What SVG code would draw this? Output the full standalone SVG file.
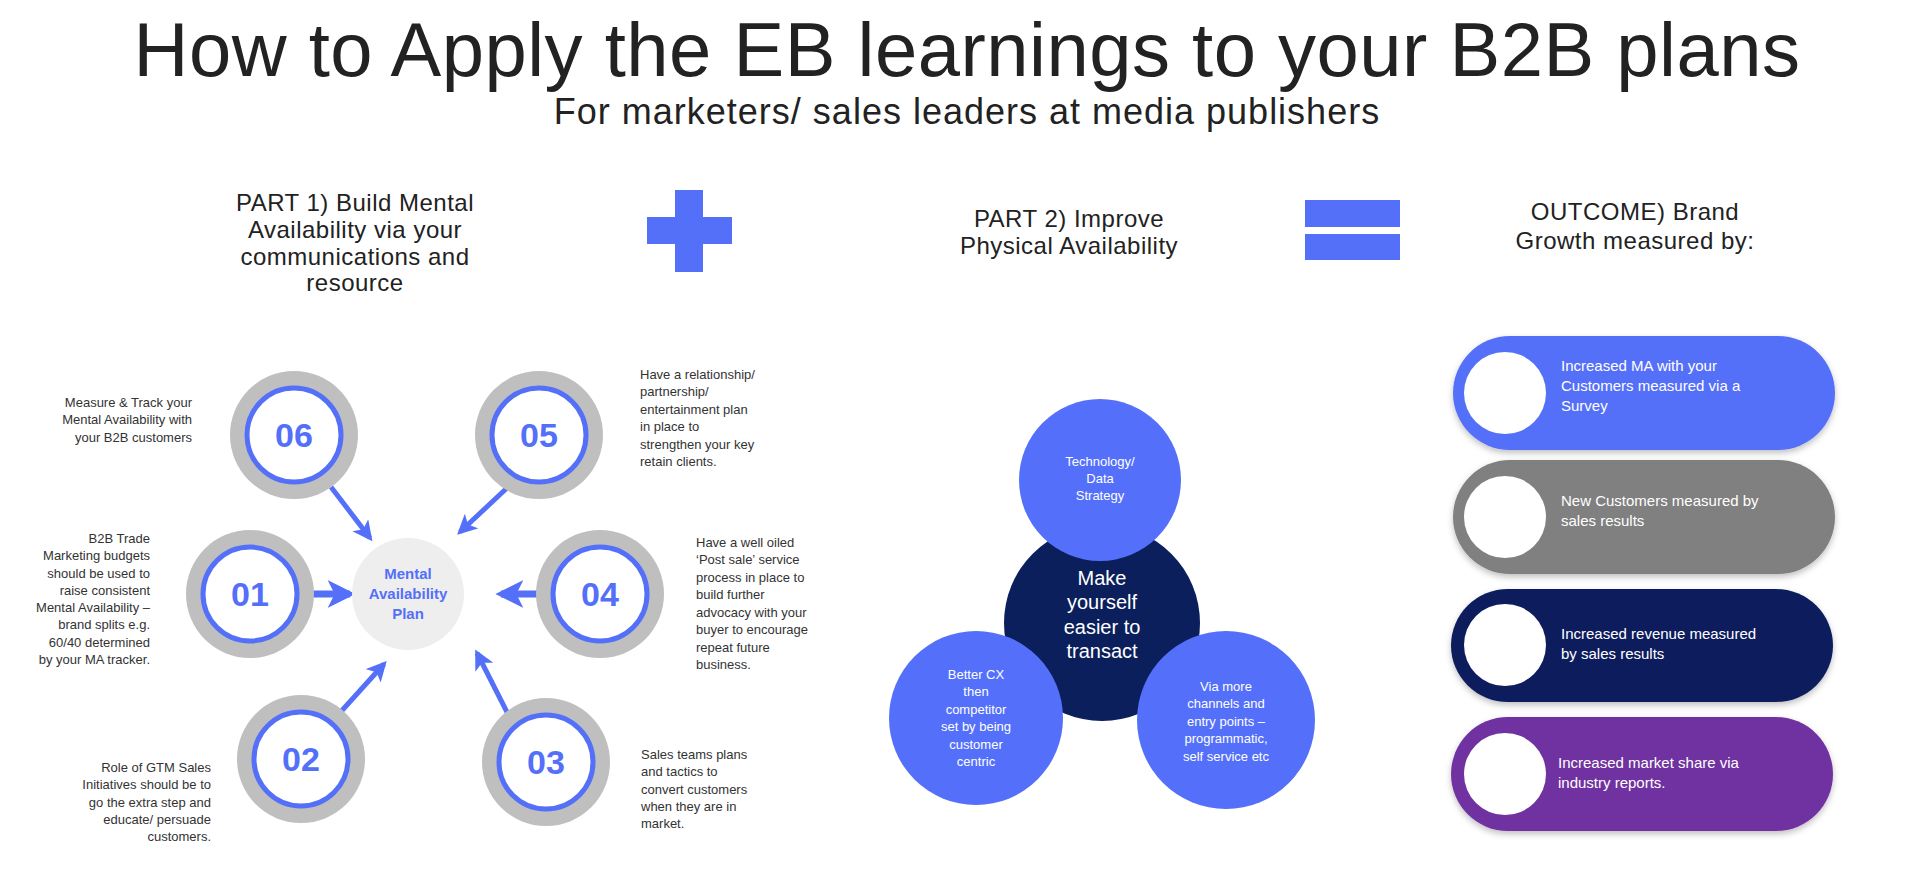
<svg xmlns="http://www.w3.org/2000/svg" width="1920" height="877" viewBox="0 0 1920 877">
<defs>
<style>
.t{font-family:"Liberation Sans",Arial,sans-serif;fill:#222}
.h{font-family:"Liberation Sans",Arial,sans-serif;fill:#222;font-size:24px;text-anchor:middle;letter-spacing:0.5px}
.s{font-size:13px;fill:#333}
.r{text-anchor:end}
.num{font-family:"Liberation Sans",Arial,sans-serif;font-weight:bold;font-size:34px;fill:#5470f8;text-anchor:middle}
.og{fill:#bfbfbf}
.ib{fill:#fff;stroke:#5470f8;stroke-width:5}
.w{font-family:"Liberation Sans",Arial,sans-serif;fill:#fff;text-anchor:middle}
.p{font-family:"Liberation Sans",Arial,sans-serif;fill:#fff;font-size:15px}
.bl{fill:#5470fb}
</style>
<marker id="ah" markerWidth="4" markerHeight="4" refX="3.2" refY="2" orient="auto" markerUnits="strokeWidth"><path d="M0,0 L4,2 L0,4 L1,2 Z" fill="#5470f8"/></marker>
<filter id="sh" x="-10%" y="-10%" width="120%" height="130%"><feDropShadow dx="0" dy="3" stdDeviation="3" flood-opacity="0.25"/></filter>
</defs>
<rect width="1920" height="877" fill="#fff"/>
<g id="titles">
<text class="t" x="967" y="76" font-size="76" text-anchor="middle" fill="#2a2a2a" letter-spacing="0.5">How to Apply the EB learnings to your B2B plans</text>
<text class="t" x="967" y="124" font-size="36" text-anchor="middle" letter-spacing="1">For marketers/ sales leaders at media publishers</text>
<text class="h" x="355" y="211">PART 1) Build Mental</text>
<text class="h" x="355" y="238">Availability via your</text>
<text class="h" x="355" y="265">communications and</text>
<text class="h" x="355" y="291">resource</text>
<text class="h" x="1069" y="227">PART 2) Improve</text>
<text class="h" x="1069" y="254">Physical Availability</text>
<text class="h" x="1635" y="220">OUTCOME) Brand</text>
<text class="h" x="1635" y="249">Growth measured by:</text>
</g>
<g id="plus"><rect x="647" y="217" width="85" height="27" fill="#5470f8"/><rect x="675" y="190" width="28" height="82" fill="#5470f8"/></g>
<g id="equals"><rect x="1305" y="200" width="95" height="27" fill="#5470f8"/><rect x="1305" y="234" width="95" height="26" fill="#5470f8"/></g>
<g id="connectors" stroke="#5470f8" stroke-width="5" fill="none" marker-end="url(#ah)">
<line x1="331" y1="487" x2="370" y2="538"/>
<line x1="508" y1="487" x2="460" y2="532"/>
<line x1="312" y1="594" x2="350" y2="594" stroke-width="7"/>
<line x1="539" y1="594" x2="501" y2="594" stroke-width="7"/>
<line x1="337" y1="716" x2="384" y2="664"/>
<line x1="508" y1="714" x2="477" y2="653"/>
</g>
<g id="center"><circle cx="408" cy="594" r="56" fill="#eeeeee"/>
<text x="408" y="579" text-anchor="middle" font-family="Liberation Sans,Arial,sans-serif" font-weight="bold" font-size="15" fill="#5470f8">Mental</text>
<text x="408" y="599" text-anchor="middle" font-family="Liberation Sans,Arial,sans-serif" font-weight="bold" font-size="15" fill="#5470f8">Availability</text>
<text x="408" y="619" text-anchor="middle" font-family="Liberation Sans,Arial,sans-serif" font-weight="bold" font-size="15" fill="#5470f8">Plan</text></g>
<g id="n06"><circle class="og" cx="294" cy="435" r="64"/><circle class="ib" cx="294" cy="435" r="47"/><text class="num" x="294" y="447">06</text>
<text class="t s r" x="192" y="407">Measure &amp; Track your</text><text class="t s r" x="192" y="424">Mental Availability with</text><text class="t s r" x="192" y="442">your B2B customers</text></g>
<g id="n05"><circle class="og" cx="539" cy="435" r="64"/><circle class="ib" cx="539" cy="435" r="47"/><text class="num" x="539" y="447">05</text>
<text class="t s" x="640" y="379">Have a relationship/</text><text class="t s" x="640" y="396">partnership/</text><text class="t s" x="640" y="414">entertainment plan</text><text class="t s" x="640" y="431">in place to</text><text class="t s" x="640" y="449">strengthen your key</text><text class="t s" x="640" y="466">retain clients.</text></g>
<g id="n01"><circle class="og" cx="250" cy="594" r="64"/><circle class="ib" cx="250" cy="594" r="47"/><text class="num" x="250" y="606">01</text>
<text class="t s r" x="150" y="543">B2B Trade</text><text class="t s r" x="150" y="560">Marketing budgets</text><text class="t s r" x="150" y="578">should be used to</text><text class="t s r" x="150" y="595">raise consistent</text><text class="t s r" x="150" y="612">Mental Availability –</text><text class="t s r" x="150" y="629">brand splits e.g.</text><text class="t s r" x="150" y="647">60/40 determined</text><text class="t s r" x="150" y="664">by your MA tracker.</text></g>
<g id="n04"><circle class="og" cx="600" cy="594" r="64"/><circle class="ib" cx="600" cy="594" r="47"/><text class="num" x="600" y="606">04</text>
<text class="t s" x="696" y="547">Have a well oiled</text><text class="t s" x="696" y="564">‘Post sale’ service</text><text class="t s" x="696" y="582">process in place to</text><text class="t s" x="696" y="599">build further</text><text class="t s" x="696" y="617">advocacy with your</text><text class="t s" x="696" y="634">buyer to encourage</text><text class="t s" x="696" y="652">repeat future</text><text class="t s" x="696" y="669">business.</text></g>
<g id="n02"><circle class="og" cx="301" cy="759" r="64"/><circle class="ib" cx="301" cy="759" r="47"/><text class="num" x="301" y="771">02</text>
<text class="t s r" x="211" y="772">Role of GTM Sales</text><text class="t s r" x="211" y="789">Initiatives should be to</text><text class="t s r" x="211" y="807">go the extra step and</text><text class="t s r" x="211" y="824">educate/ persuade</text><text class="t s r" x="211" y="841">customers.</text></g>
<g id="n03"><circle class="og" cx="546" cy="762" r="64"/><circle class="ib" cx="546" cy="762" r="47"/><text class="num" x="546" y="774">03</text>
<text class="t s" x="641" y="759">Sales teams plans</text><text class="t s" x="641" y="776">and tactics to</text><text class="t s" x="641" y="794">convert customers</text><text class="t s" x="641" y="811">when they are in</text><text class="t s" x="641" y="828">market.</text></g>
<g id="transact"><circle cx="1102" cy="623" r="98" fill="#0b1f5c"/>
<text class="w" font-size="20" x="1102" y="585">Make</text><text class="w" font-size="20" x="1102" y="609">yourself</text><text class="w" font-size="20" x="1102" y="634">easier to</text><text class="w" font-size="20" x="1102" y="658">transact</text></g>
<g id="tech"><circle class="bl" cx="1100" cy="480" r="81"/>
<text class="w" font-size="13" x="1100" y="466">Technology/</text><text class="w" font-size="13" x="1100" y="483">Data</text><text class="w" font-size="13" x="1100" y="500">Strategy</text></g>
<g id="cx"><circle class="bl" cx="976" cy="718" r="87"/>
<text class="w" font-size="13" x="976" y="679">Better CX</text><text class="w" font-size="13" x="976" y="696">then</text><text class="w" font-size="13" x="976" y="714">competitor</text><text class="w" font-size="13" x="976" y="731">set by being</text><text class="w" font-size="13" x="976" y="749">customer</text><text class="w" font-size="13" x="976" y="766">centric</text></g>
<g id="channels"><circle class="bl" cx="1226" cy="720" r="89"/>
<text class="w" font-size="13" x="1226" y="691">Via more</text><text class="w" font-size="13" x="1226" y="708">channels and</text><text class="w" font-size="13" x="1226" y="726">entry points –</text><text class="w" font-size="13" x="1226" y="743">programmatic,</text><text class="w" font-size="13" x="1226" y="761">self service etc</text></g>
<g id="o1"><rect x="1453" y="336" width="382" height="114" rx="57" fill="#5470f8" filter="url(#sh)"/><circle cx="1505" cy="393" r="41" fill="#fff"/>
<text class="p" x="1561" y="371">Increased MA with your</text><text class="p" x="1561" y="391">Customers measured via a</text><text class="p" x="1561" y="411">Survey</text></g>
<g id="o2"><rect x="1453" y="460" width="382" height="114" rx="57" fill="#808080" filter="url(#sh)"/><circle cx="1505" cy="517" r="41" fill="#fff"/>
<text class="p" x="1561" y="506">New Customers measured by</text><text class="p" x="1561" y="526">sales results</text></g>
<g id="o3"><rect x="1451" y="589" width="382" height="113" rx="57" fill="#0b1f5c" filter="url(#sh)"/><circle cx="1505" cy="645" r="41" fill="#fff"/>
<text class="p" x="1561" y="639">Increased revenue measured</text><text class="p" x="1561" y="659">by sales results</text></g>
<g id="o4"><rect x="1451" y="717" width="382" height="114" rx="57" fill="#7030a0" filter="url(#sh)"/><circle cx="1505" cy="774" r="41" fill="#fff"/>
<text class="p" x="1558" y="768">Increased market share via</text><text class="p" x="1558" y="788">industry reports.</text></g>
</svg>
